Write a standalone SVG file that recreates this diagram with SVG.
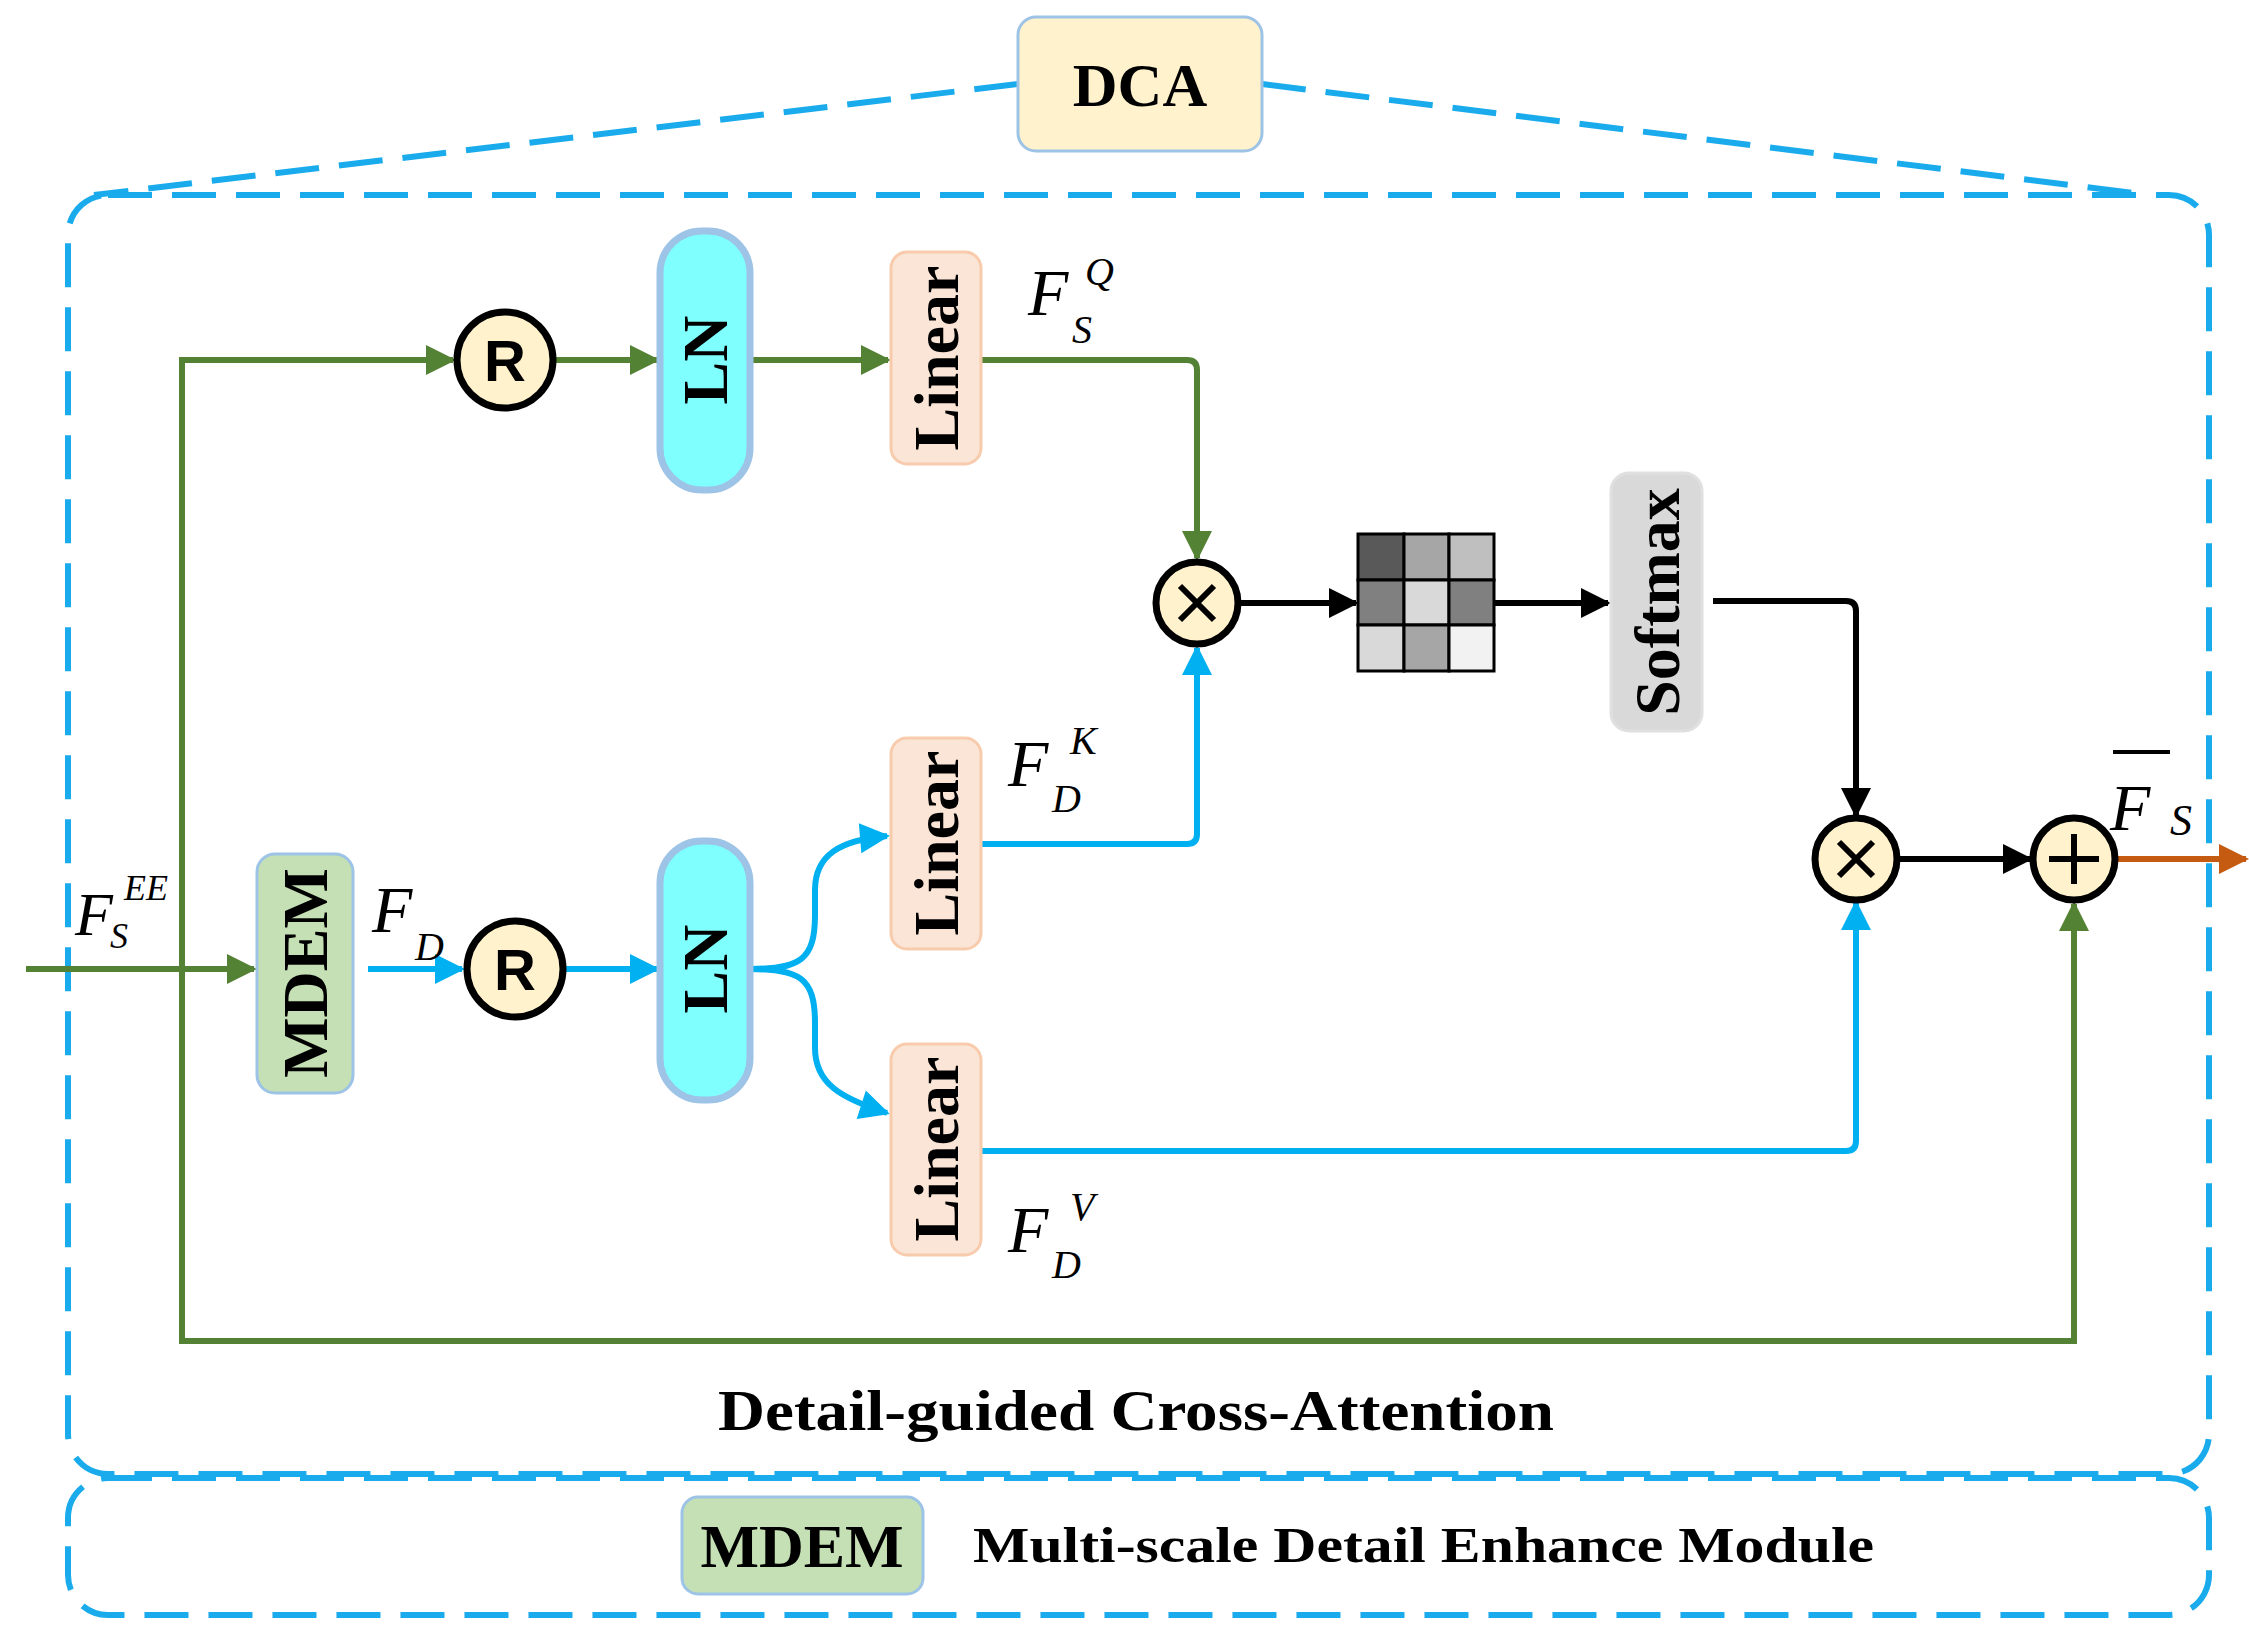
<svg xmlns="http://www.w3.org/2000/svg" width="2249" height="1641" viewBox="0 0 2249 1641">
<defs>
<style>
.dash{fill:none;stroke:#1AABEC;stroke-width:6;stroke-dasharray:44 20}
.g{fill:none;stroke:#548235;stroke-width:6}
.b{fill:none;stroke:#00B0F0;stroke-width:6}
.k{fill:none;stroke:#000;stroke-width:6}
.lbl{font-family:"Liberation Serif",serif;font-weight:bold;fill:#000}
.m{font-family:"Liberation Serif",serif;font-style:italic;fill:#000}
.circ{fill:#FFF2CC;stroke:#000;stroke-width:7}
.cell{stroke:#000;stroke-width:3}
</style>
<marker id="ag" viewBox="0 0 10 10" refX="9" refY="5" markerWidth="34" markerHeight="30" markerUnits="userSpaceOnUse" orient="auto"><path d="M0,0L10,5L0,10z" fill="#548235"/></marker>
<marker id="ab" viewBox="0 0 10 10" refX="9" refY="5" markerWidth="34" markerHeight="30" markerUnits="userSpaceOnUse" orient="auto"><path d="M0,0L10,5L0,10z" fill="#00B0F0"/></marker>
<marker id="ak" viewBox="0 0 10 10" refX="9" refY="5" markerWidth="34" markerHeight="30" markerUnits="userSpaceOnUse" orient="auto"><path d="M0,0L10,5L0,10z" fill="#000"/></marker>
<marker id="ao" viewBox="0 0 10 10" refX="9" refY="5" markerWidth="34" markerHeight="30" markerUnits="userSpaceOnUse" orient="auto"><path d="M0,0L10,5L0,10z" fill="#C55A11"/></marker>
</defs>
<rect width="2249" height="1641" fill="#fff"/>
<g id="panel">
<rect x="68" y="195" width="2141" height="1279" rx="40" fill="#FFF2CC" class="dash"/>
<rect x="68" y="1478" width="2141" height="137" rx="40" fill="#fff" class="dash"/>
<path class="dash" d="M1018,84 L94,195 M1262,84 L2150,195"/>
<text class="lbl" x="1136" y="1430" font-size="56" text-anchor="middle" textLength="836" lengthAdjust="spacingAndGlyphs">Detail-guided Cross-Attention</text>
</g>
<g id="dca"><rect x="1018" y="17" width="244" height="134" rx="18" fill="#FFF2CC" stroke="#9DC3E6" stroke-width="3"/><text class="lbl" x="1140" y="106" font-size="62" text-anchor="middle">DCA</text></g>
<g id="legend"><rect x="682" y="1497" width="241" height="97" rx="16" fill="#C5E0B4" stroke="#9DC3E6" stroke-width="3"/><text class="lbl" x="802" y="1567" font-size="62" text-anchor="middle">MDEM</text>
<text class="lbl" x="973" y="1562" font-size="50" textLength="901" lengthAdjust="spacingAndGlyphs">Multi-scale Detail Enhance Module</text></g>
<g id="connectors">
<path class="g" d="M26,969 H254" marker-end="url(#ag)"/>
<path class="g" d="M182,969 V360 H453" marker-end="url(#ag)"/>
<path class="g" d="M555,360 H657" marker-end="url(#ag)"/>
<path class="g" d="M750,360 H888" marker-end="url(#ag)"/>
<path class="g" d="M981,360 H1187 Q1197,360 1197,370 V558" marker-end="url(#ag)"/>
<path class="g" d="M182,969 V1341 H2074 V904" marker-end="url(#ag)"/>
<path class="b" d="M368,969 H462" marker-end="url(#ab)"/>
<path class="b" d="M565,969 H657" marker-end="url(#ab)"/>
<path class="b" d="M750,969 C800,969 815,960 815,915 V890 C815,855 840,840 887,836" marker-end="url(#ab)"/>
<path class="b" d="M750,969 C800,969 815,978 815,1023 V1048 C815,1083 840,1098 887,1113" marker-end="url(#ab)"/>
<path class="b" d="M981,844 H1187 Q1197,844 1197,834 V648" marker-end="url(#ab)"/>
<path class="b" d="M981,1151 H1846 Q1856,1151 1856,1141 V903" marker-end="url(#ab)"/>
<path class="k" d="M1239,603 H1356" marker-end="url(#ak)"/>
<path class="k" d="M1494,603 H1608" marker-end="url(#ak)"/>
<path class="k" d="M1713,601 H1846 Q1856,601 1856,611 V815" marker-end="url(#ak)"/>
<path class="k" d="M1898,859 H2030" marker-end="url(#ak)"/>
<path fill="none" stroke="#C55A11" stroke-width="6" d="M2116,859 H2246" marker-end="url(#ao)"/>
</g>
<g id="mdem"><rect x="257" y="854" width="96" height="239" rx="18" fill="#C5E0B4" stroke="#9DC3E6" stroke-width="3"/><text class="lbl" transform="translate(327,973) rotate(-90)" font-size="64" text-anchor="middle">MDEM</text></g>
<g id="r1"><circle class="circ" cx="505" cy="360" r="48"/><text x="505" y="381" font-family="Liberation Sans,sans-serif" font-weight="bold" font-size="58" text-anchor="middle">R</text></g>
<g id="r2"><circle class="circ" cx="515" cy="969" r="48"/><text x="515" y="990" font-family="Liberation Sans,sans-serif" font-weight="bold" font-size="58" text-anchor="middle">R</text></g>
<g id="ln1"><rect x="660" y="231" width="90" height="259" rx="42" fill="#80FFFF" stroke="#9DC3E6" stroke-width="7"/><text class="lbl" transform="translate(727,360) rotate(-90)" font-size="64" text-anchor="middle">LN</text></g>
<g id="ln2"><rect x="660" y="841" width="90" height="259" rx="42" fill="#80FFFF" stroke="#9DC3E6" stroke-width="7"/><text class="lbl" transform="translate(727,969) rotate(-90)" font-size="64" text-anchor="middle">LN</text></g>
<g id="linear1"><rect x="891" y="252" width="90" height="212" rx="16" fill="#FBE5D6" stroke="#F8CBAD" stroke-width="3"/><text class="lbl" transform="translate(958,358) rotate(-90)" font-size="64" text-anchor="middle">Linear</text></g>
<g id="linear2"><rect x="891" y="738" width="90" height="211" rx="16" fill="#FBE5D6" stroke="#F8CBAD" stroke-width="3"/><text class="lbl" transform="translate(958,843) rotate(-90)" font-size="64" text-anchor="middle">Linear</text></g>
<g id="linear3"><rect x="891" y="1044" width="90" height="211" rx="16" fill="#FBE5D6" stroke="#F8CBAD" stroke-width="3"/><text class="lbl" transform="translate(958,1149) rotate(-90)" font-size="64" text-anchor="middle">Linear</text></g>
<g id="mul1"><circle class="circ" cx="1197" cy="603" r="41"/><path class="k" d="M1180,586 L1214,620 M1214,586 L1180,620"/></g>
<g id="matrix">
<rect class="cell" x="1358" y="534" width="46" height="46" fill="#595959"/><rect class="cell" x="1404" y="534" width="45" height="46" fill="#A6A6A6"/><rect class="cell" x="1449" y="534" width="45" height="46" fill="#BFBFBF"/>
<rect class="cell" x="1358" y="580" width="46" height="45" fill="#808080"/><rect class="cell" x="1404" y="580" width="45" height="45" fill="#D9D9D9"/><rect class="cell" x="1449" y="580" width="45" height="45" fill="#808080"/>
<rect class="cell" x="1358" y="625" width="46" height="46" fill="#D9D9D9"/><rect class="cell" x="1404" y="625" width="45" height="46" fill="#A6A6A6"/><rect class="cell" x="1449" y="625" width="45" height="46" fill="#F2F2F2"/>
</g>
<g id="softmax"><rect x="1611" y="473" width="91" height="258" rx="18" fill="#D9D9D9" stroke="#E0E0E0" stroke-width="3"/><text class="lbl" transform="translate(1679,602) rotate(-90)" font-size="64" text-anchor="middle">Softmax</text></g>
<g id="mul2"><circle class="circ" cx="1856" cy="859" r="41"/><path class="k" d="M1839,842 L1873,876 M1873,842 L1839,876"/></g>
<g id="add"><circle class="circ" cx="2074" cy="859" r="41"/><path class="k" d="M2074,834 V884 M2049,859 H2099"/></g>
<g id="labels">
<text class="m" x="75" y="935" font-size="62">F</text><text class="m" x="110" y="948" font-size="36">S</text><text class="m" x="124" y="900" font-size="36">EE</text>
<text class="m" x="372" y="932" font-size="66">F</text><text class="m" x="415" y="960" font-size="40">D</text>
<text class="m" x="1028" y="315" font-size="66">F</text><text class="m" x="1072" y="343" font-size="40">S</text><text class="m" x="1085" y="285" font-size="40">Q</text>
<text class="m" x="1008" y="786" font-size="66">F</text><text class="m" x="1052" y="812" font-size="40">D</text><text class="m" x="1070" y="754" font-size="40">K</text>
<text class="m" x="1008" y="1252" font-size="66">F</text><text class="m" x="1052" y="1278" font-size="40">D</text><text class="m" x="1070" y="1220" font-size="40">V</text>
<text class="m" x="2110" y="830" font-size="66">F</text><text class="m" x="2170" y="835" font-size="44">S</text><path d="M2113,752 H2170" stroke="#000" stroke-width="4"/>
</g>
</svg>
